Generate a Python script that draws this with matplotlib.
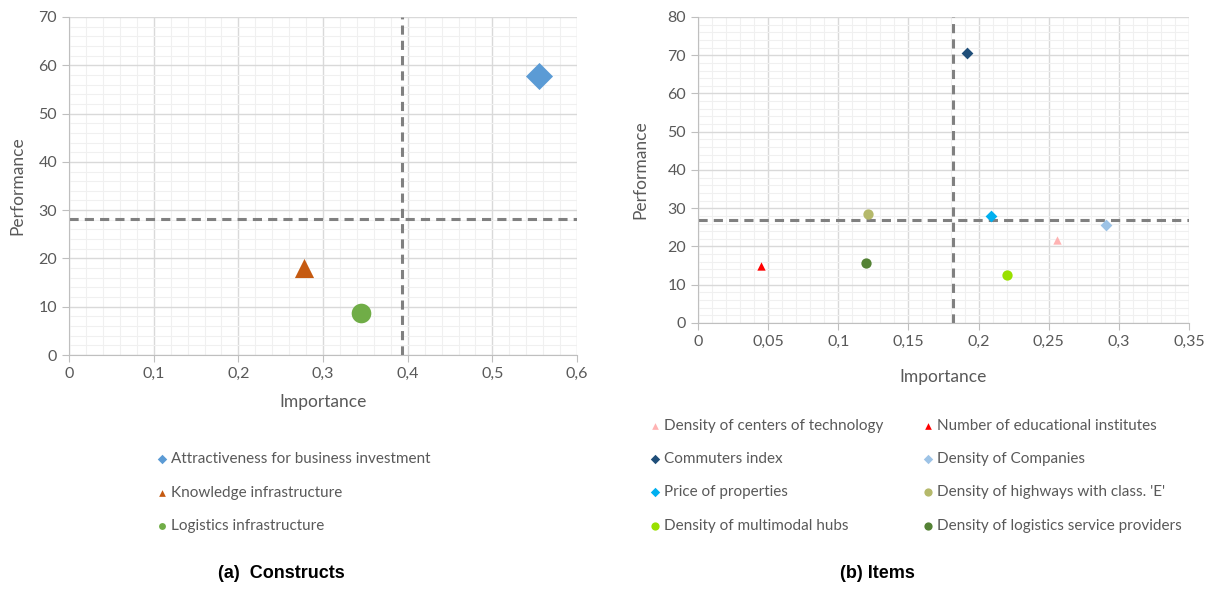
import matplotlib
matplotlib.use("Agg")
import matplotlib.pyplot as plt
from matplotlib.ticker import MultipleLocator, FuncFormatter

plt.rcParams['font.family'] = ['Lato', 'DejaVu Sans']

# ---- Data (a) Constructs ----
con_names = ["Attractiveness for business investment", "Knowledge infrastructure", "Logistics infrastructure"]
con_importance = [0.555, 0.277, 0.345]
con_performance = [57.7, 18.0, 8.8]
con_markers = ["D", "^", "o"]
con_colors = ["#5B9BD5", "#C55A11", "#70AD47"]
con_mean_imp = 0.393
con_mean_perf = 28.2

# ---- Data (b) Items ----
item_names = ["Density of centers of technology", "Number of educational institutes", "Commuters index",
              "Density of Companies", "Price of properties", "Density of highways with class. 'E'",
              "Density of multimodal hubs", "Density of logistics service providers"]
item_importance = [0.256, 0.045, 0.192, 0.291, 0.209, 0.121, 0.220, 0.120]
item_performance = [21.8, 14.8, 70.7, 25.6, 28.0, 28.5, 12.5, 15.8]
item_markers = ["^", "^", "D", "D", "D", "o", "o", "o"]
item_colors = ["#FFB3B3", "#FF0000", "#1F4E79", "#9DC3E6", "#00B0F0", "#B5B96B", "#99E000", "#548235"]
item_mean_imp = 0.182
item_mean_perf = 27.0

TXT = "#595959"
fig = plt.figure(figsize=(12.09, 5.92), dpi=100)

def comma(v, pos):
    s = ("%.2f" % v).rstrip("0").rstrip(".")
    return s.replace(".", ",")

def style(ax, xmaj, xmin, ymaj, ymin):
    ax.xaxis.set_major_locator(MultipleLocator(xmaj))
    ax.xaxis.set_minor_locator(MultipleLocator(xmin))
    ax.yaxis.set_major_locator(MultipleLocator(ymaj))
    ax.yaxis.set_minor_locator(MultipleLocator(ymin))
    ax.xaxis.set_major_formatter(FuncFormatter(comma))
    ax.grid(which="major", color="#D9D9D9", linewidth=1.0, zorder=0)
    ax.grid(which="minor", color="#F0F0F0", linewidth=0.8, zorder=0)
    ax.set_axisbelow(True)
    for s in ["top", "right"]:
        ax.spines[s].set_visible(False)
    for s in ["left", "bottom"]:
        ax.spines[s].set_color("#BFBFBF")
    ax.tick_params(which="major", colors="#BFBFBF", labelcolor=TXT, labelsize=11.5, length=5)
    ax.tick_params(which="minor", length=0)
    ax.set_xlabel("Importance", fontsize=12.5, color=TXT)
    ax.set_ylabel("Performance", fontsize=12.5, color=TXT)

# (a)
ax1 = fig.add_axes([0.0571, 0.4003, 0.4202, 0.571])
for n, x, y, m, c in zip(con_names, con_importance, con_performance, con_markers, con_colors):
    ax1.scatter([x], [y], marker=m, s=190 if m != "o" else 200, color=c, label=n, zorder=3, linewidths=0)
ax1.axvline(con_mean_imp, color="#808080", linestyle=(0, (3, 2)), linewidth=2.2, zorder=2)
ax1.axhline(con_mean_perf, color="#808080", linestyle=(0, (3, 2)), linewidth=2.2, zorder=2)
ax1.set_xlim(0, 0.6)
ax1.set_ylim(0, 70)
style(ax1, 0.1, 0.02, 10, 2)
ax1.xaxis.set_label_coords(0.5, -0.115)
ax1.yaxis.set_label_coords(-0.085, 0.5)
h, l = ax1.get_legend_handles_labels()
leg1 = fig.legend(h, l, loc="upper left", bbox_to_anchor=(0.116, 0.259), ncol=1, frameon=False,
                  fontsize=11, labelcolor=TXT, markerscale=0.35, handletextpad=0.1,
                  labelspacing=1.25, handlelength=1.0)

# (b)
ax2 = fig.add_axes([0.5773, 0.4544, 0.4062, 0.5169])
for n, x, y, m, c in zip(item_names, item_importance, item_performance, item_markers, item_colors):
    ax2.scatter([x], [y], marker=m, s=36 if m != "o" else 55, color=c, label=n, zorder=3, linewidths=0)
ax2.axvline(item_mean_imp, color="#808080", linestyle=(0, (3, 2)), linewidth=2.2, zorder=2)
ax2.axhline(item_mean_perf, color="#808080", linestyle=(0, (3, 2)), linewidth=2.2, zorder=2)
ax2.set_xlim(0, 0.35)
ax2.set_ylim(0, 80)
style(ax2, 0.05, 0.01, 10, 2)
ax2.xaxis.set_label_coords(0.5, -0.15)
ax2.yaxis.set_label_coords(-0.1, 0.5)
h, l = ax2.get_legend_handles_labels()
order = [0, 2, 4, 6, 1, 3, 5, 7]
leg2 = fig.legend([h[i] for i in order], [l[i] for i in order], loc="upper left",
                  bbox_to_anchor=(0.524, 0.315), ncol=2, frameon=False, fontsize=11,
                  labelcolor=TXT, markerscale=0.8, handletextpad=0.1, labelspacing=1.25,
                  handlelength=1.0, columnspacing=2.4)

capfam = ['Liberation Sans Narrow', 'Liberation Sans', 'DejaVu Sans']
fig.text(0.233, 0.023, "(a)  Constructs", fontsize=13, fontweight="bold", ha="center", family=capfam)
fig.text(0.726, 0.023, "(b) Items", fontsize=13, fontweight="bold", ha="center", family=capfam)

fig.savefig("out.png", dpi=100)
